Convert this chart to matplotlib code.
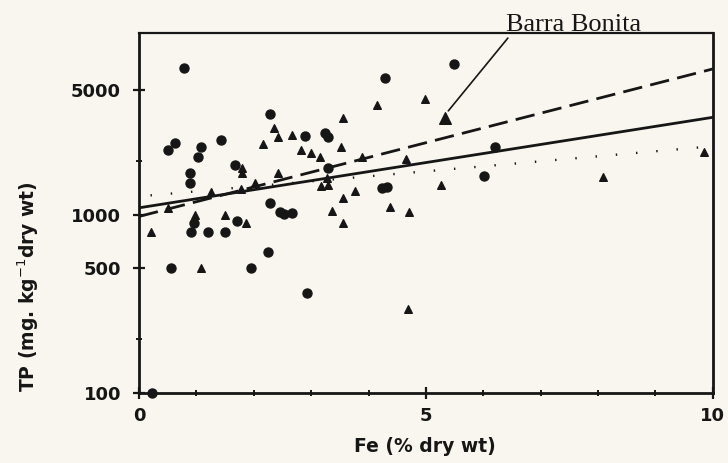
import matplotlib
matplotlib.use("Agg")
import matplotlib.pyplot as plt

# circles (Fe %, TP mg/kg)
circ_fe = [0.79, 2.28, 0.62, 0.50, 1.08, 1.03, 1.43, 1.68, 0.89, 0.89, 4.29, 2.89,
           3.25, 3.30, 3.29, 2.28, 2.46, 2.53, 2.67, 0.96, 1.70, 0.91, 1.20, 1.49,
           2.25, 0.55, 1.96, 2.92, 4.23, 4.32, 5.49, 6.20, 6.02, 0.23]
circ_tp = [6600, 3650, 2500, 2300, 2400, 2100, 2600, 1900, 1700, 1500, 5800, 2750,
           2850, 2700, 1830, 1160, 1030, 1010, 1020, 900, 915, 800, 800, 800,
           615, 500, 500, 365, 1400, 1430, 7000, 2400, 1640, 100]

# triangles
tri_fe = [2.36, 2.43, 2.16, 1.79, 1.79, 2.43, 4.15, 4.99, 3.55, 2.66, 3.52, 2.82,
          3.00, 3.15, 4.66, 3.88, 3.27, 3.18, 3.30, 2.02, 1.25, 1.77, 3.77, 3.56,
          0.51, 0.98, 1.49, 1.87, 3.36, 3.56, 4.37, 4.71, 0.20, 1.08, 4.68, 5.26,
          8.08, 9.84]
tri_tp = [3050, 2700, 2480, 1830, 1710, 1710, 4080, 4430, 3460, 2800, 2390, 2310,
          2200, 2110, 2050, 2100, 1610, 1440, 1460, 1510, 1330, 1390, 1360, 1240,
          1090, 990, 1000, 900, 1040, 900, 1100, 1030, 800, 500, 295, 1460,
          1620, 2250]

# Barra Bonita
bb_fe = [5.34]
bb_tp = [3460]

# regression lines (end points)
solid_fe = [0, 10]
solid_tp = [1090, 3500]
dash_fe = [0, 10]
dash_tp = [975, 6530]
dot_fe = [0.2, 10]
dot_tp = [1280, 2410]

ink = "#161616"
paper = "#f8f6ee"
sans = "DejaVu Sans"

fig = plt.figure(figsize=(7.28, 4.63), dpi=100, facecolor=paper)
ax = fig.add_axes([0.191, 0.151, 0.788, 0.778], facecolor=paper)
ax.set_yscale("log")
ax.set_xlim(0, 10)
ax.set_ylim(100, 10400)

ax.plot(solid_fe, solid_tp, color=ink, lw=2.0)
ax.plot(dash_fe, dash_tp, color=ink, lw=2.0, linestyle=(0, (7, 3)))
ax.plot(dot_fe, dot_tp, color=ink, lw=1.7, linestyle=(0, (0.6, 8)))

ax.scatter(circ_fe, circ_tp, s=42, marker="o", color=ink, clip_on=False, zorder=3)
ax.scatter(tri_fe, tri_tp, s=30, marker="^", color=ink, zorder=3)
ax.scatter(bb_fe, bb_tp, s=70, marker="^", color=ink, zorder=3)

ax.annotate("", xy=(5.36, 3700), xytext=(6.46, 10000), xycoords="data",
            textcoords="data", annotation_clip=False,
            arrowprops=dict(arrowstyle="-", color=ink, lw=1.2))
fig.text(574 / 728, 1 - 31 / 463, "Barra Bonita", ha="center", va="baseline",
         color=ink, fontsize=19, family="Liberation Serif")

for s in ax.spines.values():
    s.set_color(ink)
    s.set_linewidth(2.0)
ax.spines["top"].set_linewidth(1.6)

ax.set_xticks([0, 5, 10])
ax.set_xticks([1, 2, 3, 4, 6, 7, 8, 9], minor=True)
ax.set_yticks([100, 500, 1000, 5000])
ax.set_yticklabels(["100", "500", "1000", "5000"])
ax.set_yticks([200, 2000], minor=True)
ax.yaxis.set_minor_formatter(plt.NullFormatter())
ax.tick_params(axis="both", which="major", direction="inout", length=8, width=1.6,
               color=ink, labelcolor=ink, labelsize=13)
ax.tick_params(axis="y", which="major", pad=9)
ax.tick_params(axis="x", which="major", pad=6)
ax.tick_params(axis="both", which="minor", direction="inout", length=5, width=1.4,
               color=ink)
for lab in ax.get_xticklabels() + ax.get_yticklabels():
    lab.set_family(sans)
    lab.set_fontweight("bold")

fig.text(425 / 728, 1 - 447 / 463, "Fe (% dry wt)", ha="center", va="center",
         fontsize=13.5, family=sans, fontweight="bold", color=ink)
fig.text(28 / 728, 1 - 287 / 463, "TP (mg. kg$^{-1}$dry wt)", rotation=90,
         ha="center", va="center", fontsize=13.5, family=sans,
         fontweight="bold", color=ink)

fig.savefig("out.png", dpi=100, facecolor=paper)
